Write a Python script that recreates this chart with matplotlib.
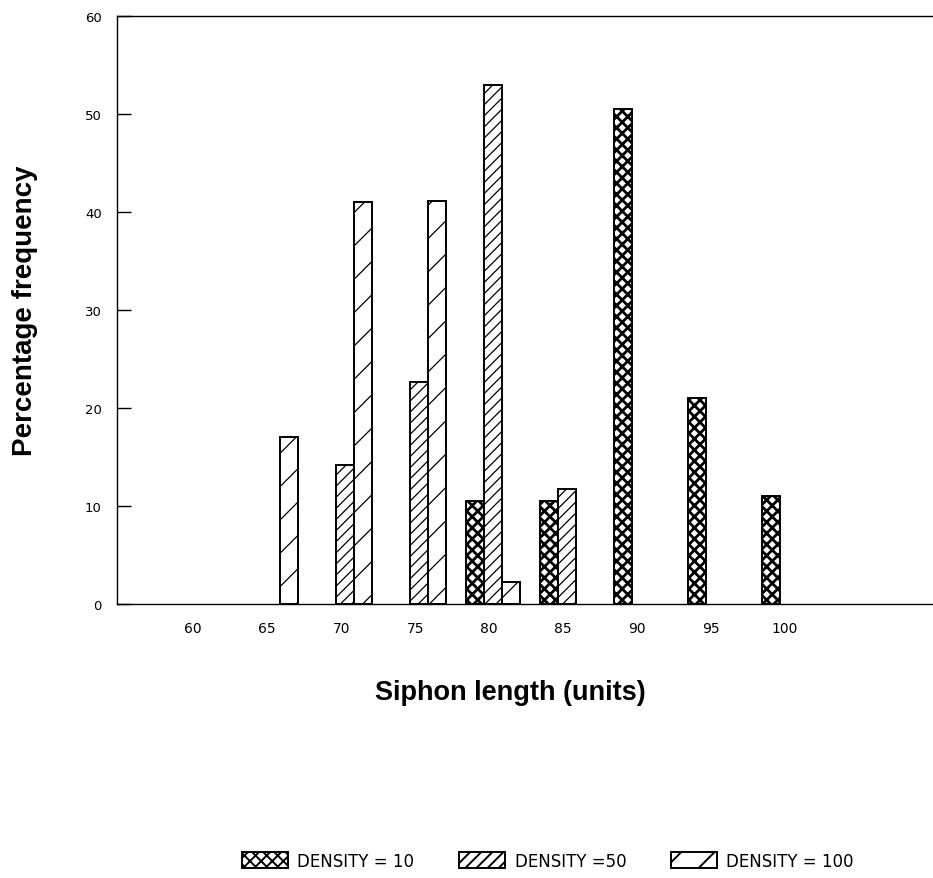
import matplotlib
matplotlib.use("Agg")
import matplotlib.pyplot as plt
import numpy as np

# ---- data ----
categories = ["60", "65", "70", "75", "80", "85", "90", "95", "100"]
density10 = [0, 0, 0, 0, 10.5, 10.5, 50.5, 21, 11]
density50 = [0, 0, 14.2, 22.7, 53, 11.7, 0, 0, 0]
density100 = [0, 17, 41, 41.1, 2.2, 0, 0, 0, 0]
series_labels = ["DENSITY = 10", "DENSITY =50", "DENSITY = 100"]
yticks = [0, 10, 20, 30, 40, 50, 60]

plt.rcParams['font.family'] = ['DejaVu Sans']

fig = plt.figure(figsize=(9.33, 8.79), dpi=100)
ax = fig.add_axes([117/933, 1 - 605/879, 1 - 117/933, (605 - 17)/879])

x = np.arange(len(categories))
w = 0.243
offsets = [-0.19, 0.05, 0.29]
hatches = ["xxx", "///", "/"]
hlw = [2.0, 0.9, 0.9]
series = [density10, density50, density100]

handles = []
for vals, off, h, lw, lab in zip(series, offsets, hatches, hlw, series_labels):
    with plt.rc_context({'hatch.linewidth': lw, 'hatch.color': 'black'}):
        v = np.array(vals, dtype=float)
        m = v > 0
        bars = ax.bar(x[m] + off, v[m], width=w, facecolor='white',
                      edgecolor='black', linewidth=1.4, hatch=h, label=lab)
        handles.append(bars)

ax.set_xlim(-1.03, 10.0)
ax.set_ylim(0, 60)
ax.set_yticks(yticks)
ax.set_yticklabels([str(t) for t in yticks], fontsize=9.5)
ax.set_xticks(x)
ax.set_xticklabels(categories, fontsize=10)
ax.tick_params(axis='y', direction='in', length=10, width=1, pad=11)
ax.tick_params(axis='x', length=0, pad=12)

ax.spines['right'].set_visible(False)
for s in ['left', 'top', 'bottom']:
    ax.spines[s].set_linewidth(1.0)

ax.set_xlabel("Siphon length (units)", fontsize=19.5, fontweight='bold',
              family=['Liberation Sans', 'DejaVu Sans'])
ax.xaxis.label.set_va('center')
ax.xaxis.set_label_coords((510 - 117) / 816, (605 - 693) / 588)
ax.set_ylabel("Percentage frequency", fontsize=20, fontweight='bold',
              family=['Liberation Sans', 'DejaVu Sans'])
ax.yaxis.label.set_va('center')
ax.yaxis.set_label_coords((25 - 117) / 816, 0.5)

with plt.rc_context({'hatch.linewidth': 1.4}):
    fig.legend(handles=handles, labels=series_labels, loc='center',
               bbox_to_anchor=(548 / 933, 1 - 862 / 879), ncol=3,
               frameon=False, fontsize=12, handlelength=2.76, handleheight=1.08,
               handletextpad=0.55, columnspacing=2.7)

fig.savefig("out.png", dpi=100)
